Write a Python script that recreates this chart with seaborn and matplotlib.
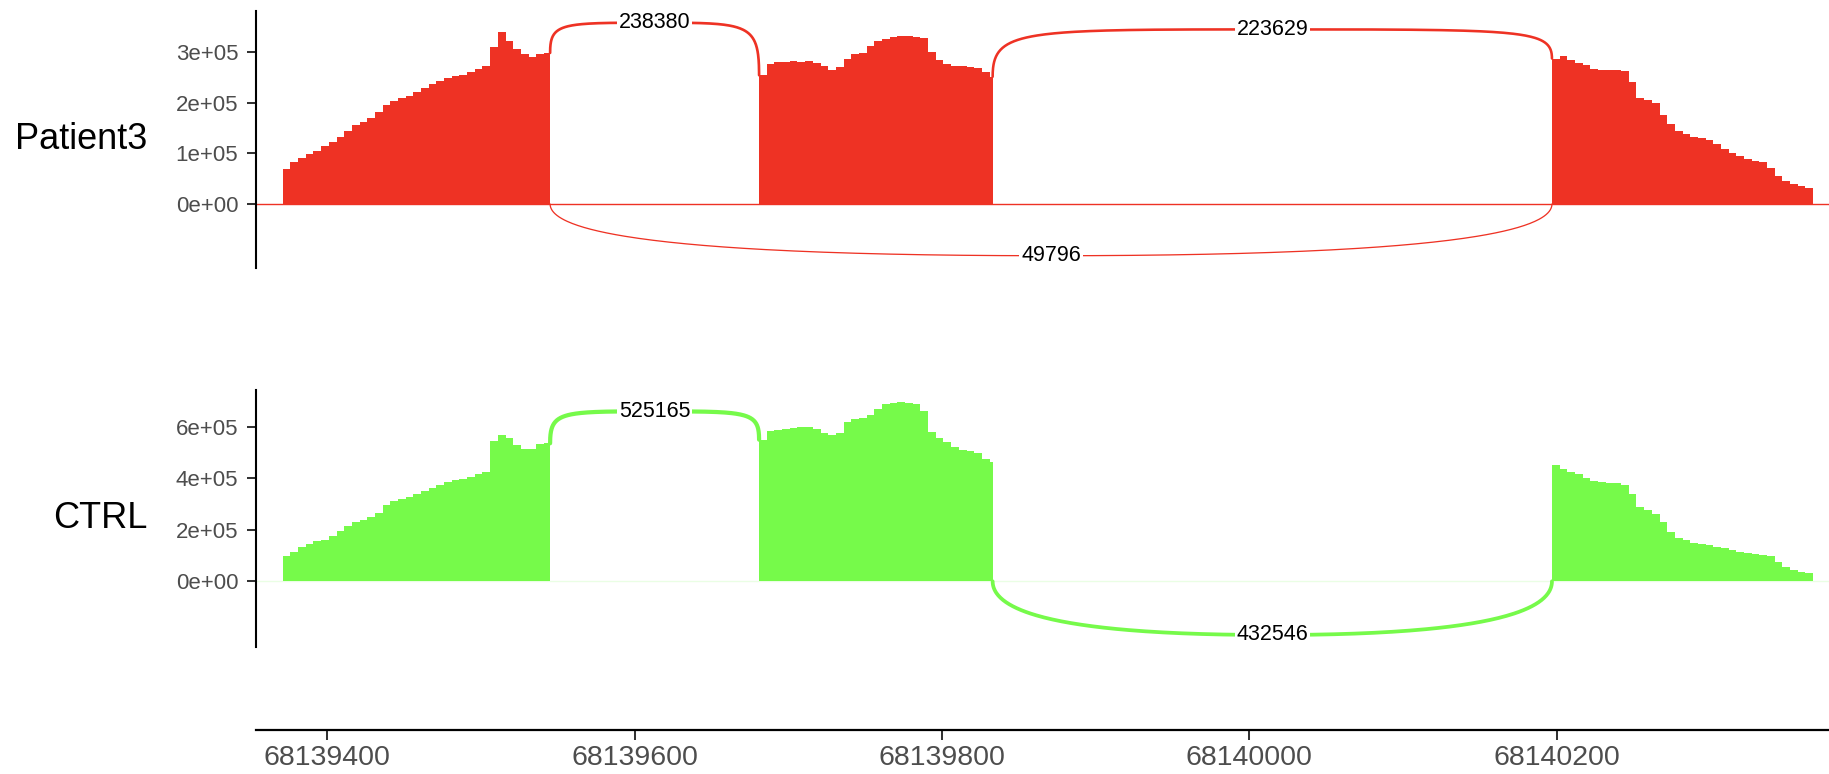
import numpy as np
import pandas as pd
import matplotlib
matplotlib.use("Agg")
import matplotlib.pyplot as plt
import seaborn as sns
from math import comb
from matplotlib.ticker import FuncFormatter, FixedLocator

sns.set_theme(style="white")
plt.rcParams['font.family'] = ['Liberation Sans', 'DejaVu Sans']

# ---------------- data ----------------
samples = ["Patient3", "CTRL"]
exon_starts = [68139371, 68139681, 68140197]
exon_ends = [68139545, 68139833, 68140367]
bin_bp = 5

# coverage (x1e5) read every 5 bp from each exon start
p3_exon1 = [0.70, 0.82, 0.90, 0.98, 1.05, 1.14, 1.22, 1.33, 1.45, 1.55, 1.62, 1.70,
            1.82, 1.95, 2.03, 2.10, 2.14, 2.20, 2.28, 2.36, 2.42, 2.48, 2.52, 2.55,
            2.60, 2.66, 2.72, 3.10, 3.40, 3.22, 3.05, 2.95, 2.90, 2.96, 2.98]
p3_exon2 = [2.54, 2.76, 2.80, 2.80, 2.82, 2.80, 2.82, 2.78, 2.72, 2.64, 2.70, 2.86,
            2.95, 2.98, 3.12, 3.22, 3.26, 3.30, 3.32, 3.31, 3.30, 3.27, 3.00, 2.84,
            2.76, 2.73, 2.72, 2.71, 2.68, 2.60, 2.51]
p3_exon3 = [2.87, 2.92, 2.84, 2.78, 2.75, 2.66, 2.64, 2.64, 2.64, 2.62, 2.40, 2.10,
            2.05, 2.00, 1.75, 1.58, 1.45, 1.38, 1.33, 1.30, 1.26, 1.18, 1.08, 1.00,
            0.95, 0.88, 0.85, 0.82, 0.72, 0.55, 0.45, 0.40, 0.36, 0.32]

ctrl_exon1 = [0.98, 1.15, 1.32, 1.45, 1.55, 1.62, 1.75, 1.95, 2.15, 2.30, 2.40, 2.48,
              2.65, 2.95, 3.10, 3.20, 3.28, 3.38, 3.52, 3.62, 3.75, 3.85, 3.92, 3.98,
              4.05, 4.15, 4.25, 5.45, 5.68, 5.55, 5.30, 5.12, 5.15, 5.35, 5.36]
ctrl_exon2 = [5.50, 5.82, 5.88, 5.90, 5.95, 5.98, 6.00, 5.90, 5.75, 5.68, 5.75, 6.20,
              6.30, 6.35, 6.45, 6.70, 6.90, 6.92, 6.95, 6.92, 6.88, 6.60, 5.80, 5.55,
              5.40, 5.20, 5.10, 5.05, 5.00, 4.75, 4.65]
ctrl_exon3 = [4.52, 4.38, 4.25, 4.18, 4.00, 3.88, 3.85, 3.82, 3.80, 3.74, 3.40, 2.90,
              2.75, 2.62, 2.30, 1.90, 1.70, 1.60, 1.50, 1.45, 1.40, 1.32, 1.28, 1.22,
              1.15, 1.08, 1.05, 1.02, 1.00, 0.75, 0.55, 0.42, 0.38, 0.34]

p3_junc_start = [68139545, 68139833, 68139545]
p3_junc_end = [68139681, 68140197, 68140197]
p3_junc_count = [238380, 223629, 49796]
p3_junc_side = ["top", "top", "bottom"]

ctrl_junc_start = [68139545, 68139833]
ctrl_junc_end = [68139681, 68140197]
ctrl_junc_count = [525165, 432546]
ctrl_junc_side = ["top", "bottom"]

x_ticks = [68139400, 68139600, 68139800, 68140000, 68140200]
p3_yticks = [0, 100000, 200000, 300000]
ctrl_yticks = [0, 200000, 400000, 600000]

# ---------------- styling ----------------
red = "#EE3224"
green = "#76FA4A"
W, H = 1829, 774
x_lim = (68139353.4, 68140377.3)

fig = plt.figure(figsize=(W / 100, H / 100), dpi=100)


def px_axes(left, top, right, bottom):
    return fig.add_axes([left / W, 1 - bottom / H, (right - left) / W, (bottom - top) / H])


def build_cov(exons):
    edges, pos, vals = [], [], []
    for s, e, v in zip(exon_starts, exon_ends, exons):
        p = [s + bin_bp * i for i in range(len(v))]
        pos += p
        vals += [x * 1e5 for x in v]
        edges += p + [e]
    return pos, vals, sorted(set(edges))


def bez(points, n=120):
    pts = np.array(points, dtype=float)
    t = np.linspace(0, 1, n)[:, None]
    k = len(pts) - 1
    out = np.zeros((n, 2))
    for i, p in enumerate(pts):
        out += comb(k, i) * (1 - t) ** (k - i) * t ** i * p
    return out


max_count = max(p3_junc_count + ctrl_junc_count)

panels = [
    ("Patient3", [p3_exon1, p3_exon2, p3_exon3], p3_junc_start, p3_junc_end, p3_junc_count,
     p3_junc_side, red, (11, 268), (-1.262e5, 3.807e5), p3_yticks, 1.0),
    ("CTRL", [ctrl_exon1, ctrl_exon2, ctrl_exon3], ctrl_junc_start, ctrl_junc_end,
     ctrl_junc_count, ctrl_junc_side, green, (390, 646.7), (-2.54e5, 7.43e5), ctrl_yticks, 0.15),
]

for (name, exons, js, je, jc, jside, col, (top, bot), ylim, yticks, base_alpha) in panels:
    ax = px_axes(255.7, top, W, bot)
    pos, vals, edges = build_cov(exons)
    df = pd.DataFrame({"pos": pos, "cov": vals})
    sns.histplot(data=df, x="pos", weights="cov", bins=edges, element="step", fill=True,
                 color=col, alpha=1, linewidth=0, ax=ax, zorder=2)
    ax.axhline(0, color=col, lw=1.0, alpha=base_alpha, zorder=1)
    maxcov = max(vals)

    def cov_left(x):
        idx = max(i for i, p in enumerate(pos) if p < x)
        return vals[idx]

    def cov_right(x):
        idx = min(i for i, p in enumerate(pos) if p >= x)
        return vals[idx]

    for s, e, c, side in zip(js, je, jc, jside):
        xmid = (s + e) / 2
        half = xmid - s
        if side == "top":
            y1, y2 = cov_left(s), cov_right(e)
            ym = 1.2 * max(y1, y2)
            a = 0.1
            left = bez([(s, y1), (s, ym), (s + a * half, ym), (xmid, ym)])
            right = bez([(xmid, ym), (e - a * half, ym), (e, ym), (e, y2)])
        else:
            y1, y2 = 0.0, 0.0
            ym = -0.3 * maxcov
            left = bez([(s, y1), (s, ym), (xmid, ym)])
            right = bez([(xmid, ym), (e, ym), (e, y2)])
        curve = np.vstack([left, right])
        lw_px = 0.6 + 3.6 * (c / max_count) ** 0.7
        sns.lineplot(x=curve[:, 0], y=curve[:, 1], sort=False, estimator=None,
                     color=col, lw=lw_px * 0.72, ax=ax, zorder=3)
        ax.text(xmid, ym, str(c), ha="center", va="center", fontsize=15.5, color="black",
                zorder=4, bbox=dict(boxstyle="square,pad=0.08", fc="white", ec="none"))

    ax.set_xlim(*x_lim)
    ax.set_ylim(*ylim)
    ax.set_xticks([])
    ax.set_xlabel("")
    ax.yaxis.set_major_locator(FixedLocator(yticks))
    ax.yaxis.set_major_formatter(FuncFormatter(lambda v, _: f"{v:.0e}"))
    for sp in ["top", "right", "bottom"]:
        ax.spines[sp].set_visible(False)
    ax.spines["left"].set_color("black")
    ax.spines["left"].set_linewidth(1.5)
    ax.tick_params(axis="y", left=True, length=6.5, width=1.45, color="#333333",
                   labelsize=16, labelcolor="#4D4D4D", pad=6.0)
    ax.set_ylabel(name, rotation=0, ha="right", va="center", fontsize=26, color="black")
    ax.yaxis.set_label_coords(-0.069, 0.5)
    ax.set_facecolor("none")
    ax.grid(False)

# x axis panel
axx = px_axes(255.7, 700, W, 730)
axx.set_xlim(*x_lim)
axx.set_yticks([])
for sp in ["top", "right", "left"]:
    axx.spines[sp].set_visible(False)
axx.spines["bottom"].set_color("black")
axx.spines["bottom"].set_linewidth(1.6)
axx.xaxis.set_major_locator(FixedLocator(x_ticks))
axx.xaxis.set_major_formatter(FuncFormatter(lambda v, _: f"{int(round(v))}"))
axx.tick_params(axis="x", bottom=True, length=7, width=1.45, color="#333333",
                labelsize=20.5, labelcolor="#4D4D4D", pad=4)
axx.set_facecolor("none")
axx.grid(False)

fig.savefig("out.png", dpi=100, facecolor="white")
